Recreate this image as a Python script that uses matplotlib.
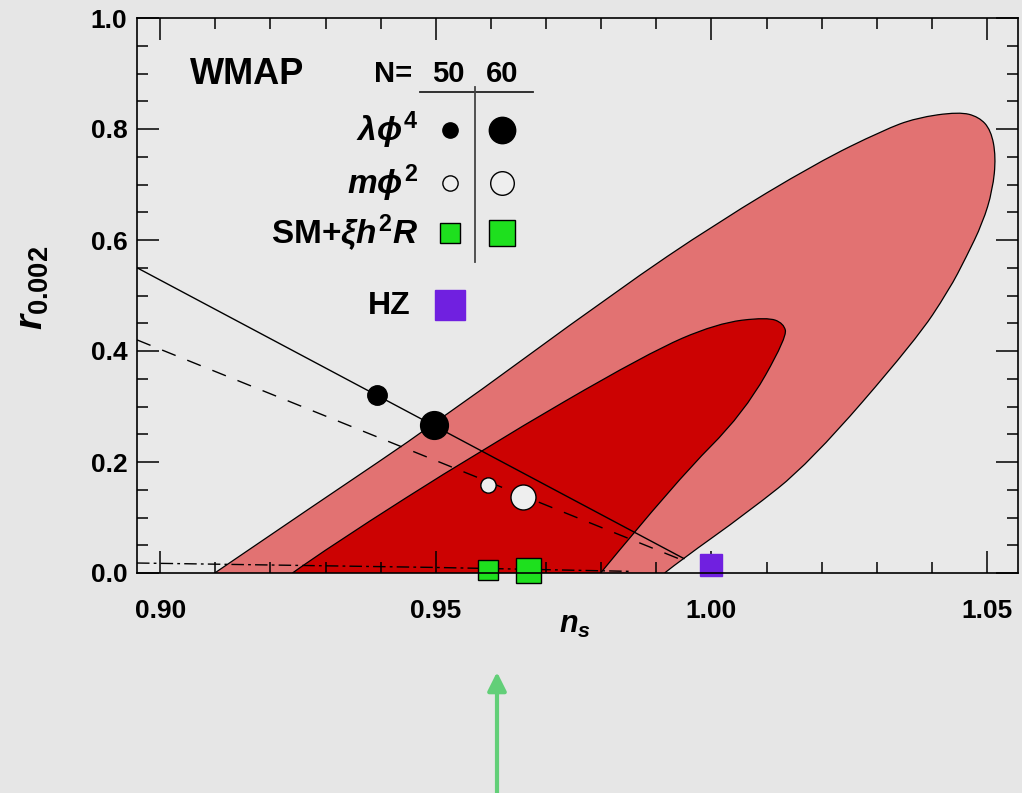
import matplotlib
matplotlib.use('Agg')
import matplotlib.pyplot as plt
import numpy as np
from matplotlib.path import Path
from matplotlib.patches import PathPatch
from matplotlib.ticker import MultipleLocator

plt.rcParams['font.family'] = ['Liberation Sans', 'DejaVu Sans']
plt.rcParams['font.weight'] = 'bold'
plt.rcParams['mathtext.fontset'] = 'custom'
plt.rcParams['mathtext.rm'] = 'Liberation Sans:bold'
plt.rcParams['mathtext.it'] = 'Liberation Sans:italic:bold'
plt.rcParams['mathtext.bf'] = 'Liberation Sans:bold'

# boundary of the WMAP contours (n_s, r), r >= 0
outer_n = [0.9099, 0.9294, 0.9496, 0.9830, 1.0010, 1.0191, 1.0312, 1.0371,
           1.0449, 1.0485, 1.0507, 1.0516, 1.0510, 1.0492, 1.0462, 1.0431,
           1.0371, 1.0178, 1.0064, 0.9944, 0.9915]
outer_r = [0.0, 0.132, 0.267, 0.510, 0.631, 0.739, 0.798, 0.820,
           0.831, 0.822, 0.798, 0.750, 0.690, 0.631, 0.569, 0.510,
           0.420, 0.198, 0.108, 0.023, 0.0]
inner_n = [0.9240, 0.9306, 0.9583, 0.9884, 1.0010, 1.0101, 1.0131, 1.0137,
           1.0059, 0.9938, 0.9799]
inner_r = [0.0, 0.047, 0.222, 0.396, 0.450, 0.461, 0.450, 0.425,
           0.288, 0.168, 0.0]

# model lines
phi4_line_n = [0.8958, 0.9950]
phi4_line_r = [0.550, 0.026]
phi2_line_n = [0.8958, 0.9950]
phi2_line_r = [0.420, 0.022]
higgs_line_n = [0.8958, 0.950, 0.985]
higgs_line_r = [0.018, 0.010, 0.003]

# model predictions for N = 50, 60
phi4_n = [0.9393, 0.9496]
phi4_r = [0.321, 0.267]
phi2_n = [0.9595, 0.9658]
phi2_r = [0.159, 0.137]
higgs_n = [0.9595, 0.9668]
higgs_r = [0.005, 0.005]
hz_n = [1.000]
hz_r = [0.015]

xticks = [0.90, 0.95, 1.00, 1.05]
yticks = [0.0, 0.2, 0.4, 0.6, 0.8, 1.0]

bg = '#e6e6e6'
pink = '#e27272'
red = '#cc0202'
green = '#1ee01e'
purple = '#7020e0'


def smooth_path(n, r, closed):
    # quadratic b-spline through the read points, drawn by matplotlib's bezier code
    p = np.column_stack([n, r])
    verts = [p[0]]
    codes = [Path.MOVETO]
    for i in range(1, len(p) - 1):
        end = p[i + 1] if i == len(p) - 2 else (p[i] + p[i + 1]) / 2
        verts += [p[i], end]
        codes += [Path.CURVE3, Path.CURVE3]
    if closed:
        verts.append(p[0])
        codes.append(Path.CLOSEPOLY)
    return Path(verts, codes)


fig = plt.figure(figsize=(10.22, 7.93), dpi=100, facecolor=bg)
ax = fig.add_axes([137/1022, 1 - 573/793, 881/1022, 555/793])
ax.set_facecolor('#e9e9e9')

for bn, br, col in [(outer_n, outer_r, pink), (inner_n, inner_r, red)]:
    ax.add_patch(PathPatch(smooth_path(bn, br, True), facecolor=col, lw=0))
    ax.add_patch(PathPatch(smooth_path(bn, br, False), fill=False,
                           edgecolor='k', lw=0.9))

ax.plot(phi4_line_n, phi4_line_r, color='k', lw=1.0)
ax.plot(phi2_line_n, phi2_line_r, color='k', lw=1.0, dashes=(10.5, 9))
ax.plot(higgs_line_n, higgs_line_r, color='k', lw=1.0, dashes=(9, 3, 2, 3))

ax.plot(phi4_n[0], phi4_r[0], 'o', ms=14, color='k')
ax.plot(phi4_n[1], phi4_r[1], 'o', ms=20, color='k')
ax.plot(phi2_n[0], phi2_r[0], 'o', ms=11, mfc='#eeeeee', mec='k', mew=1)
ax.plot(phi2_n[1], phi2_r[1], 'o', ms=18, mfc='#eeeeee', mec='k', mew=1)
ax.plot(higgs_n[0], higgs_r[0], 's', ms=14, mfc=green, mec='k', mew=1, clip_on=False)
ax.plot(higgs_n[1], higgs_r[1], 's', ms=18, mfc=green, mec='k', mew=1, clip_on=False)
ax.plot(hz_n, hz_r, 's', ms=16, color=purple, clip_on=False)

ax.set_xlim(0.8958, 1.0556)
ax.set_ylim(0.0, 1.0)
ax.set_xticks(xticks)
ax.set_xticklabels(['%.2f' % t for t in xticks])
ax.set_yticks(yticks)
ax.set_yticklabels(['%.1f' % t for t in yticks])
ax.xaxis.set_minor_locator(MultipleLocator(0.01))
ax.yaxis.set_minor_locator(MultipleLocator(0.05))
ax.tick_params(which='both', direction='in', top=True, right=True, width=1.1)
ax.tick_params(which='major', length=16)
ax.tick_params(which='minor', length=8)
ax.tick_params(axis='x', which='major', pad=19)
ax.tick_params(axis='y', which='major', pad=7)
for lab in ax.get_xticklabels() + ax.get_yticklabels():
    lab.set_fontsize(19)
    lab.set_fontweight('bold')
for sp in ax.spines.values():
    sp.set_linewidth(1.2)

ax.text(0.497, -0.093, r'$n_s$', transform=ax.transAxes, fontsize=22,
        ha='center', va='center')
fig.text(33/1022, 1 - 288/793, r'$r_{0.002}$', rotation=90, fontsize=28,
         ha='center', va='center')

# key
T = ax.transAxes
ax.text(0.0602, 0.899, 'WMAP', transform=T, fontsize=26, ha='left', va='center')
ax.text(0.2906, 0.899, 'N=', transform=T, fontsize=21, ha='center', va='center')
ax.text(0.353, 0.899, '50', transform=T, fontsize=21, ha='center', va='center')
ax.text(0.414, 0.899, '60', transform=T, fontsize=21, ha='center', va='center')
ax.plot([0.3212, 0.4495], [0.8667, 0.8667], transform=T, color='#222222', lw=1.3)
ax.plot([0.3837, 0.3837], [0.8757, 0.5604], transform=T, color='#444444', lw=1.3)

ax.text(0.319, 0.798, r'$\lambda\phi^4$', transform=T, fontsize=24, ha='right', va='center')
ax.text(0.319, 0.7027, r'$m\phi^2$', transform=T, fontsize=24, ha='right', va='center')
ax.text(0.319, 0.6126, r'SM+$\xi h^2 R$', transform=T, fontsize=24, ha='right', va='center')
ax.text(0.310, 0.481, 'HZ', transform=T, fontsize=23, ha='right', va='center')

ax.plot(0.3553, 0.798, 'o', ms=11, color='k', transform=T)
ax.plot(0.4143, 0.798, 'o', ms=19, color='k', transform=T)
ax.plot(0.3553, 0.7027, 'o', ms=11, mfc='#eeeeee', mec='k', mew=1, transform=T)
ax.plot(0.4143, 0.7027, 'o', ms=17, mfc='#eeeeee', mec='k', mew=1, transform=T)
ax.plot(0.3553, 0.6126, 's', ms=15, mfc=green, mec='k', mew=1, transform=T)
ax.plot(0.4143, 0.6126, 's', ms=19, mfc=green, mec='k', mew=1, transform=T)
ax.plot(0.3553, 0.483, 's', ms=21, color=purple, transform=T)

ax.annotate('', xy=(497/1022, 1 - 672/793), xytext=(497/1022, 0.0),
            xycoords='figure fraction', textcoords='figure fraction',
            arrowprops=dict(arrowstyle='-|>', color='#62cf78', lw=3,
                            mutation_scale=28, shrinkA=0, shrinkB=0))

fig.savefig('out.png', dpi=100, facecolor=bg)
